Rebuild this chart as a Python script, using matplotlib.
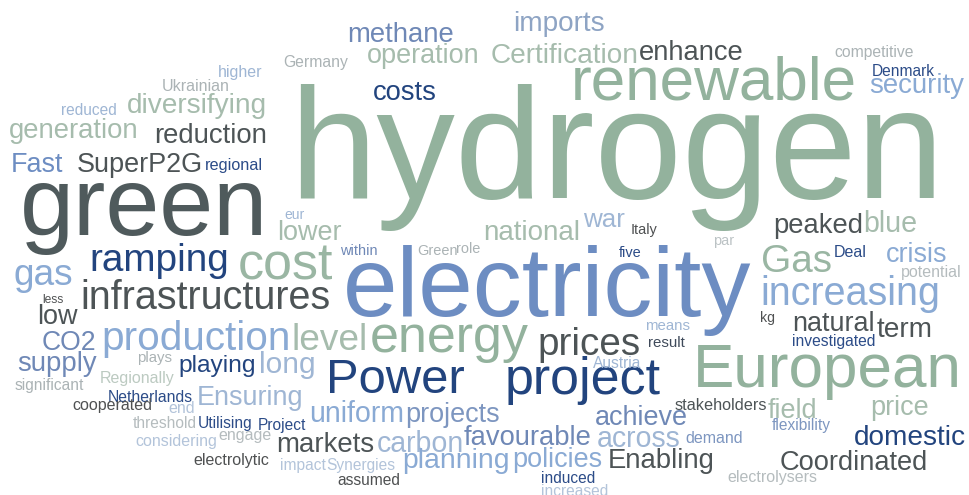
import matplotlib
matplotlib.use("Agg")
import matplotlib.pyplot as plt

# word cloud data: word and its weight (rendered size)
words = [
    "hydrogen", "electricity", "green", "renewable", "European", "energy",
    "project", "cost", "Power", "production", "infrastructures", "increasing",
    "ramping", "Gas", "prices", "gas", "level", "CO2", "long",
    "imports", "methane", "operation", "Certification", "enhance", "security",
    "costs", "diversifying", "generation", "reduction", "Fast", "SuperP2G",
    "lower", "national", "war", "peaked", "blue", "crisis", "low", "natural",
    "term", "supply", "playing", "Ensuring", "uniform", "projects", "markets",
    "carbon", "favourable", "achieve", "across", "field", "price", "domestic",
    "planning", "policies", "Enabling", "Coordinated",
    "Germany", "higher", "Ukrainian", "reduced", "regional", "competitive",
    "Denmark", "eur", "within", "Green", "role", "Italy", "five", "par", "Deal",
    "potential", "less", "kg", "means", "result", "investigated", "plays",
    "Regionally", "Austria", "significant", "Netherlands", "cooperated", "end",
    "threshold", "Utilising", "Project", "considering", "engage", "electrolytic",
    "stakeholders", "flexibility", "demand", "electrolysers", "impact",
    "Synergies", "assumed", "induced", "increased",
]
weights = [
    157, 98, 97, 62, 62, 52,
    52, 52, 49, 40.5, 39.5, 39.5,
    38.8, 38.7, 38.6, 37, 37, 26.5, 30,
    28, 27.5, 27, 28, 27.4, 27.6,
    27.4, 28, 27.5, 27.5, 27, 27,
    27, 27.7, 26, 27.4, 28.6, 27, 27, 27,
    28, 27.5, 24.5, 27, 28.5, 27, 27.6,
    28.5, 27.4, 27, 28.5, 27, 27, 28,
    28.4, 27, 27.5, 27.2,
    15.8, 16, 16, 15.5, 16.3, 15.8,
    15.5, 14, 14.5, 14.5, 14.5, 14.5, 14.5, 14.5, 16,
    16, 12, 14, 15, 15, 15.6, 15,
    16, 15.5, 15.5, 15.8, 16, 16,
    15.5, 15.5, 15.5, 16, 16, 16,
    16.2, 15.5, 16, 16, 15.5,
    15.5, 15.5, 15.5, 15.5,
]

SAGE = "#93b29d"
SAGE_L = "#a6bcad"
DARK = "#4d5456"
DARK_S = "#4f5152"
BLUE = "#6d8dc2"
NAVY = "#22447e"
NAVY_S = "#2c4c88"
LBLUE = "#8aaad4"
GBLUE = "#6f88b6"
PBLUE = "#9fb6d4"
LGRAY = "#abb3b5"
PALE = "#b3c4da"

# layout: left x, baseline y (pixels from top-left), colour
layout = {
    "hydrogen": (289, 198, SAGE), "electricity": (343, 316, BLUE),
    "green": (20, 235, "#4f5a5c"), "renewable": (571, 100, SAGE),
    "European": (693, 387, SAGE), "energy": (370, 352, SAGE),
    "project": (505, 394, NAVY), "cost": (238, 280, "#9ab6a3"),
    "Power": (326, 393, NAVY), "production": (101, 350, LBLUE),
    "infrastructures": (80, 309, DARK), "increasing": (760, 305, LBLUE),
    "ramping": (89, 271, NAVY), "Gas": (761, 272, "#9ab6a3"),
    "prices": (537, 355, DARK), "gas": (14, 285, LBLUE),
    "level": (292, 350, SAGE_L), "CO2": (42, 350, GBLUE),
    "long": (259, 373, PBLUE),
    "imports": (513, 31, "#8ea4c4"), "methane": (347, 42, GBLUE),
    "operation": (367, 63, SAGE_L), "Certification": (491, 63, SAGE_L),
    "enhance": (639, 60, DARK), "security": (869, 93, LBLUE),
    "costs": (373, 100, NAVY), "diversifying": (127, 113, SAGE_L),
    "generation": (9, 138, SAGE_L), "reduction": (154, 143, DARK),
    "Fast": (11, 172, BLUE), "SuperP2G": (77, 172, DARK),
    "lower": (277, 240, SAGE_L), "national": (483, 240, SAGE_L),
    "war": (583, 227, PBLUE), "peaked": (773, 233, DARK),
    "blue": (863, 232, SAGE_L), "crisis": (886, 262, LBLUE),
    "low": (37, 324, DARK), "natural": (792, 331, DARK),
    "term": (877, 337, DARK), "supply": (17, 371, GBLUE),
    "playing": (178, 372, NAVY), "Ensuring": (197, 405, PBLUE),
    "uniform": (309, 422, LBLUE), "projects": (405, 422, "#7d96c0"),
    "markets": (276, 452, DARK), "carbon": (377, 452, PBLUE),
    "favourable": (464, 445, GBLUE), "achieve": (595, 425, GBLUE),
    "across": (597, 447, PBLUE), "field": (768, 418, SAGE_L),
    "price": (870, 415, SAGE_L), "domestic": (854, 445, NAVY),
    "planning": (402, 468, LBLUE), "policies": (512, 467, LBLUE),
    "Enabling": (608, 468, DARK), "Coordinated": (780, 470, DARK),
    "Germany": (283, 67, LGRAY), "higher": (218, 77, PBLUE),
    "Ukrainian": (162, 91, LGRAY), "reduced": (61, 115, PBLUE),
    "regional": (205, 170, NAVY_S), "competitive": (834, 57, LGRAY),
    "Denmark": (872, 76, NAVY_S), "eur": (284, 219, PBLUE),
    "within": (340, 255, GBLUE), "Green": (417, 255, LGRAY),
    "role": (456, 253, LGRAY), "Italy": (631, 234, DARK_S),
    "five": (619, 257, NAVY_S), "par": (713, 245, "#bcc3c5"),
    "Deal": (834, 257, NAVY_S), "potential": (901, 277, "#b5bcbe"),
    "less": (42, 303, DARK_S), "kg": (760, 322, DARK_S),
    "means": (645, 330, PBLUE), "result": (648, 347, "#3f4a5a"),
    "investigated": (792, 346, NAVY_S), "plays": (137, 362, LGRAY),
    "Regionally": (100, 383, "#bccac1"), "Austria": (593, 368, PBLUE),
    "significant": (15, 390, LGRAY), "Netherlands": (108, 402, NAVY_S),
    "cooperated": (72, 410, DARK_S), "end": (168, 413, PALE),
    "threshold": (133, 428, "#b5bcbe"), "Utilising": (198, 428, NAVY_S),
    "Project": (258, 430, NAVY_S), "considering": (135, 446, PALE),
    "engage": (218, 440, "#b5bcbe"), "electrolytic": (193, 465, DARK_S),
    "stakeholders": (675, 410, DARK), "flexibility": (772, 430, "#7d96c0"),
    "demand": (685, 443, "#7d96c0"), "electrolysers": (727, 482, "#b5bcbe"),
    "impact": (280, 470, PALE), "Synergies": (326, 470, PALE),
    "assumed": (337, 485, DARK_S), "induced": (541, 483, NAVY_S),
    "increased": (541, 496, PALE),
}

plt.rcParams["font.family"] = ["Liberation Sans", "DejaVu Sans"]

fig = plt.figure(figsize=(9.69, 4.95), dpi=100)
ax = fig.add_axes([0, 0, 1, 1])
ax.set_xlim(0, 969)
ax.set_ylim(495, 0)
ax.axis("off")

for w, s in zip(words, weights):
    x, y, c = layout[w]
    ax.text(x, y, w, fontsize=s * 0.72, color=c, ha="left", va="baseline")

fig.savefig("out.png", dpi=100, facecolor="white")
